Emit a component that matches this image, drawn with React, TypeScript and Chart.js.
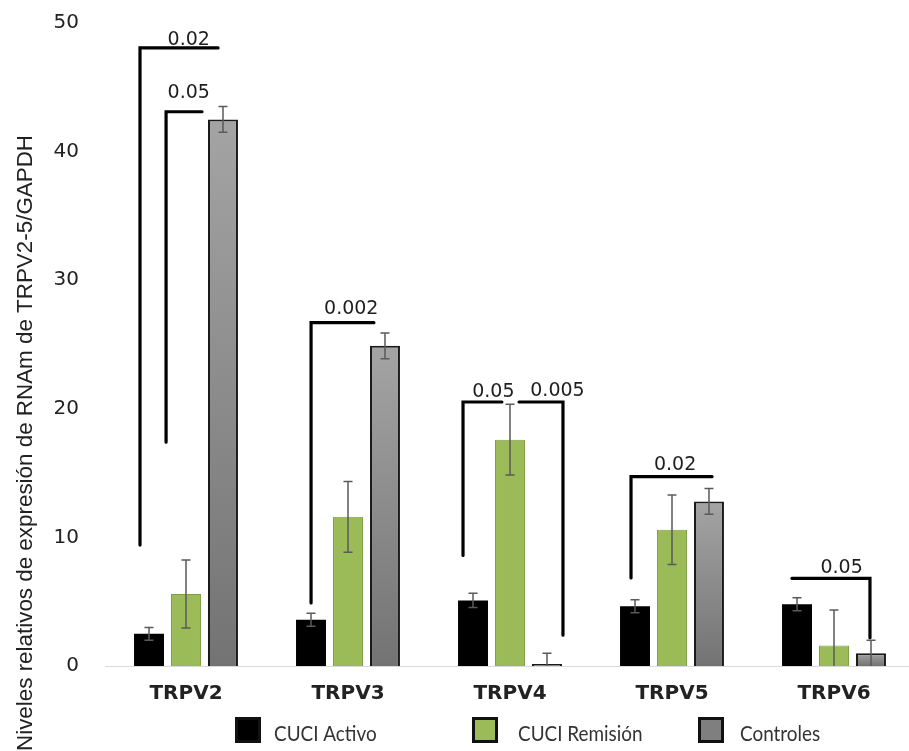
import React, { useEffect, useRef } from "react";
import { Chart, registerables } from "chart.js";

Chart.register(...registerables);

// Expression data per gene (mean ± error) for each study group
const genes = ["TRPV2", "TRPV3", "TRPV4", "TRPV5", "TRPV6"];
const groupNames = ["CUCI Activo", "CUCI Remisión", "Controles"];
const activoMeans = [2.5, 3.6, 5.1, 4.65, 4.8];
const activoErrors = [0.5, 0.5, 0.55, 0.5, 0.5];
const remisionMeans = [5.6, 11.6, 17.6, 10.6, 1.6];
const remisionErrors = [2.65, 2.75, 2.75, 2.7, 2.75];
const controlMeans = [42.5, 24.9, 0.15, 12.8, 1.0];
const controlErrors = [1.0, 1.0, 0.85, 1.0, 1.0];
const yTicks = [0, 10, 20, 30, 40, 50];
const yTitle = "Niveles relativos de expresión de RNAm de TRPV2-5/GAPDH";

// Significance brackets: p-value, gene, level of the bar and the ends of the drops
const pLabels = ["0.02", "0.05", "0.002", "0.05", "0.005", "0.02", "0.05"];
const pGene = [0, 0, 1, 2, 2, 3, 4];
const pLevel = [48.06, 43.1, 26.7, 20.53, 20.53, 14.72, 6.82];
const pLeftDrop: (number | null)[] = [9.4, 17.4, 4.9, 8.6, null, 6.85, null];
const pRightDrop: (number | null)[] = [null, null, null, null, 2.4, null, 2.2];
const pTextLevel = [48.29, 44.15, 27.35, 20.94, 21.0, 15.24, 7.2];

// Horizontal placement of each bracket, as a fraction of a category width
const bracketLeft = [-0.284, -0.123, -0.228, -0.29, 0.056, -0.253, -0.26];
const bracketRight = [0.198, 0.099, 0.16, -0.05, 0.327, 0.247, 0.222];
const bracketText = [0.017, 0.017, 0.02, -0.103, 0.293, 0.019, 0.047];

const errorSets = [activoErrors, remisionErrors, controlErrors];

function controlFill(c: any) {
  const chart = c.chart;
  const y = chart && chart.scales ? chart.scales.y : null;
  if (c.type !== "data" || !y || !chart.chartArea || !c.parsed) return "#8a8a8a";
  const top = y.getPixelForValue(c.parsed.y);
  const base = y.getPixelForValue(0);
  if (!isFinite(top) || !isFinite(base) || base - top < 1) return "#808080";
  const g = chart.ctx.createLinearGradient(0, top, 0, base);
  g.addColorStop(0, "#a4a4a4");
  g.addColorStop(1, "#737373");
  return g;
}

const errorBarsPlugin = {
  id: "errorBars",
  afterDatasetsDraw(chart: any) {
    const { ctx, chartArea } = chart;
    const y = chart.scales.y;
    ctx.save();
    ctx.beginPath();
    ctx.rect(chartArea.left, chartArea.top - 30, chartArea.right - chartArea.left, chartArea.bottom - chartArea.top + 30);
    ctx.clip();
    ctx.strokeStyle = "#5a5a5a";
    ctx.lineWidth = 1.5;
    chart.data.datasets.forEach((ds: any, di: number) => {
      const meta = chart.getDatasetMeta(di);
      const errs = errorSets[di];
      meta.data.forEach((bar: any, i: number) => {
        const v = ds.data[i];
        const e = errs[i];
        const x = bar.x;
        const yHi = y.getPixelForValue(v + e);
        const yLo = y.getPixelForValue(Math.max(v - e, 0));
        const cap = 4.5;
        ctx.beginPath();
        ctx.moveTo(x, yHi);
        ctx.lineTo(x, yLo);
        ctx.moveTo(x - cap, yHi);
        ctx.lineTo(x + cap, yHi);
        if (v - e > 0) {
          ctx.moveTo(x - cap, yLo);
          ctx.lineTo(x + cap, yLo);
        }
        ctx.stroke();
      });
    });
    ctx.restore();
  },
};

const bracketsPlugin = {
  id: "brackets",
  afterDatasetsDraw(chart: any) {
    const { ctx } = chart;
    const xs = chart.scales.x;
    const y = chart.scales.y;
    const catW = xs.getPixelForValue(1) - xs.getPixelForValue(0);
    ctx.save();
    ctx.strokeStyle = "#000";
    ctx.lineWidth = 3.2;
    ctx.lineJoin = "miter";
    ctx.lineCap = "round";
    pLabels.forEach((label, k) => {
      const cx = xs.getPixelForValue(pGene[k]);
      const x1 = cx + bracketLeft[k] * catW;
      const x2 = cx + bracketRight[k] * catW;
      const yl = y.getPixelForValue(pLevel[k]);
      ctx.beginPath();
      const ld = pLeftDrop[k];
      const rd = pRightDrop[k];
      if (ld !== null) {
        ctx.moveTo(x1, y.getPixelForValue(ld));
        ctx.lineTo(x1, yl);
      } else {
        ctx.moveTo(x1, yl);
      }
      ctx.lineTo(x2, yl);
      if (rd !== null) ctx.lineTo(x2, y.getPixelForValue(rd));
      ctx.stroke();

      ctx.fillStyle = "#1e1e1e";
      ctx.font = "19px 'DejaVu Sans'";
      ctx.textAlign = "center";
      ctx.textBaseline = "alphabetic";
      ctx.fillText(label, cx + bracketText[k] * catW, y.getPixelForValue(pTextLevel[k]));
    });
    ctx.restore();
  },
};

const decorPlugin = {
  id: "decor",
  afterDraw(chart: any) {
    const { ctx } = chart;
    ctx.save();
    // rotated y-axis title
    ctx.translate(32, 135);
    ctx.rotate(-Math.PI / 2);
    ctx.fillStyle = "#222";
    ctx.font = "22.4px 'Liberation Sans'";
    ctx.textAlign = "right";
    ctx.textBaseline = "alphabetic";
    ctx.fillText(yTitle, 0, 0);
    ctx.restore();

    // legend
    const boxes = [235, 472, 698];
    const texts = [274, 518, 740];
    const fills = ["#000000", "#9bbb59", "#7f7f7f"];
    groupNames.forEach((name, i) => {
      const bx = boxes[i];
      const by = 717;
      const s = 26;
      ctx.save();
      ctx.fillStyle = fills[i];
      ctx.fillRect(bx, by, s, s);
      ctx.strokeStyle = "#111";
      ctx.lineWidth = 3;
      ctx.strokeRect(bx + 1.5, by + 1.5, s - 3, s - 3);
      ctx.translate(texts[i], 741);
      ctx.scale(0.9, 1);
      ctx.fillStyle = "#333";
      ctx.font = "21px Lato";
      ctx.textAlign = "left";
      ctx.textBaseline = "alphabetic";
      ctx.fillText(name, 0, 0);
      ctx.restore();
    });
  },
};

export default function App() {
  const canvasRef = useRef<HTMLCanvasElement | null>(null);

  useEffect(() => {
    if (!canvasRef.current) return;
    const chart = new Chart(canvasRef.current, {
      type: "bar",
      data: {
        labels: genes,
        datasets: [
          {
            label: groupNames[0],
            data: activoMeans,
            backgroundColor: "#000000",
            borderWidth: 0,
            categoryPercentage: 0.685,
            barPercentage: 0.81,
          },
          {
            label: groupNames[1],
            data: remisionMeans,
            backgroundColor: "#9bbb59",
            borderColor: "#7e9f42",
            borderWidth: 1,
            categoryPercentage: 0.685,
            barPercentage: 0.81,
          },
          {
            label: groupNames[2],
            data: controlMeans,
            backgroundColor: controlFill,
            borderColor: "#1a1a1a",
            borderWidth: 2,
            categoryPercentage: 0.685,
            barPercentage: 0.81,
          },
        ],
      },
      options: {
        responsive: false,
        animation: false,
        layout: { padding: { top: 23, bottom: 45, left: 0, right: 0 } },
        plugins: {
          legend: { display: false },
          tooltip: { enabled: false },
          title: { display: false },
        },
        scales: {
          x: {
            afterFit: (s: any) => {
              s.height = 40;
              s.paddingLeft = 0;
              s.paddingRight = 0;
            },
            grid: { display: false, drawTicks: false },
            border: { display: true, color: "#d9d9d9", width: 1 },
            ticks: {
              font: { family: "'DejaVu Sans'", size: 20, weight: "bold" },
              color: "#222",
              padding: 16,
              maxRotation: 0,
              autoSkip: false,
            },
          },
          y: {
            min: 0,
            max: 50,
            afterFit: (s: any) => {
              s.width = 105;
              s.paddingTop = 0;
              s.paddingBottom = 0;
            },
            afterBuildTicks: (s: any) => {
              s.ticks = yTicks.map((v) => ({ value: v }));
            },
            grid: { display: false, drawTicks: false },
            border: { display: false },
            ticks: {
              font: { family: "'DejaVu Sans'", size: 20 },
              color: "#222",
              padding: 26,
            },
          },
        },
      },
      plugins: [errorBarsPlugin, bracketsPlugin, decorPlugin],
    } as any);
    return () => chart.destroy();
  }, []);

  return (
    <div
      style={{
        position: "fixed",
        left: 0,
        top: 0,
        width: 909,
        height: 751,
        overflow: "hidden",
        background: "#ffffff",
      }}
    >
      <canvas ref={canvasRef} width={915} height={751} style={{ display: "block" }} />
    </div>
  );
}
